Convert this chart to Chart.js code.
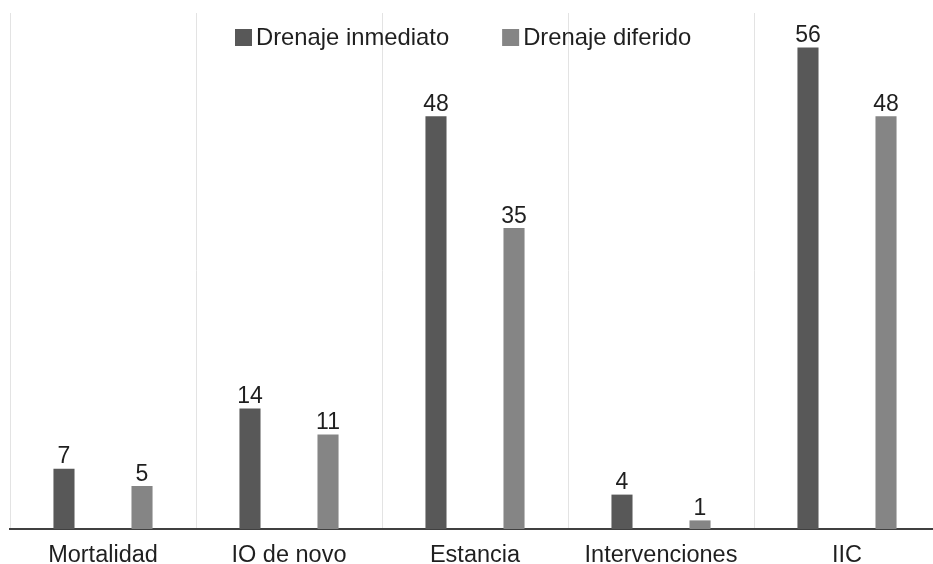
<!DOCTYPE html>
<html><head><meta charset="utf-8">
<script src="https://cdn.jsdelivr.net/npm/chart.js@4/dist/chart.umd.min.js"></script>
<style>
html,body{margin:0;padding:0;background:#fff;overflow:hidden;}
#wrap{width:933px;height:564px;overflow:hidden;position:relative;background:#fff;}
canvas{display:block;}
</style></head><body>
<div id="wrap"><canvas id="c" width="942" height="564" style="width:942px;height:564px"></canvas></div>
<script>
const categories = ['Mortalidad', 'IO de novo', 'Estancia', 'Intervenciones', 'IIC'];
const seriesNames = ['Drenaje inmediato', 'Drenaje diferido'];
const inmediato = [7, 14, 48, 4, 56];
const diferido = [5, 11, 35, 1, 48];
const yMax = 60;

const FONT = '"Liberation Sans", Arial, sans-serif';
const TEXT = '#1f1f1f';

const valueLabels = {
  id: 'valueLabels',
  afterDatasetsDraw(chart) {
    const ctx = chart.ctx;
    ctx.save();
    ctx.font = '23px ' + FONT;
    ctx.fillStyle = TEXT;
    ctx.textAlign = 'center';
    ctx.textBaseline = 'alphabetic';
    chart.data.datasets.forEach((ds, i) => {
      chart.getDatasetMeta(i).data.forEach((bar, j) => {
        ctx.fillText(String(ds.data[j]), bar.x, bar.y - 5.5);
      });
    });
    ctx.restore();
  }
};

const topLegend = {
  id: 'topLegend',
  afterDraw(chart) {
    const ctx = chart.ctx;
    ctx.save();
    ctx.font = '23.8px ' + FONT;
    const box = 17, gapText = 4, gapItem = 53;
    const items = chart.data.datasets.map(d => ({ text: d.label, color: d.backgroundColor, w: ctx.measureText(d.label).width }));
    const total = items.reduce((s, it) => s + box + gapText + it.w, 0) + gapItem * (items.length - 1);
    let x = Math.round(463 - total / 2);
    const top = chart.chartArea.top + 16;
    items.forEach(it => {
      ctx.fillStyle = it.color;
      ctx.fillRect(x, top, box, box);
      x += box + gapText;
      ctx.fillStyle = TEXT;
      ctx.textAlign = 'left';
      ctx.textBaseline = 'alphabetic';
      ctx.fillText(it.text, x, top + 16);
      x += it.w + gapItem;
    });
    ctx.restore();
  }
};

new Chart(document.getElementById('c'), {
  type: 'bar',
  data: {
    labels: categories,
    datasets: [
      { label: seriesNames[0], data: inmediato, backgroundColor: '#585858', categoryPercentage: 0.839, barPercentage: 0.27 },
      { label: seriesNames[1], data: diferido, backgroundColor: '#858585', categoryPercentage: 0.839, barPercentage: 0.27 }
    ]
  },
  options: {
    responsive: false,
    animation: false,
    devicePixelRatio: 1,
    layout: { padding: { left: 10, right: 2, top: 13, bottom: 0 } },
    plugins: { legend: { display: false }, tooltip: { enabled: false } },
    scales: {
      x: {
        afterFit(scale) { scale.height = 35; },
        grid: { color: '#e3e3e3', lineWidth: 1, offset: true, drawTicks: false },
        border: { color: '#404040', width: 2 },
        ticks: { color: TEXT, font: { family: FONT, size: 23.5 }, padding: 12, maxRotation: 0, autoSkip: false }
      },
      y: { display: false, min: 0, max: yMax }
    }
  },
  plugins: [valueLabels, topLegend]
});
</script>
</body></html>
